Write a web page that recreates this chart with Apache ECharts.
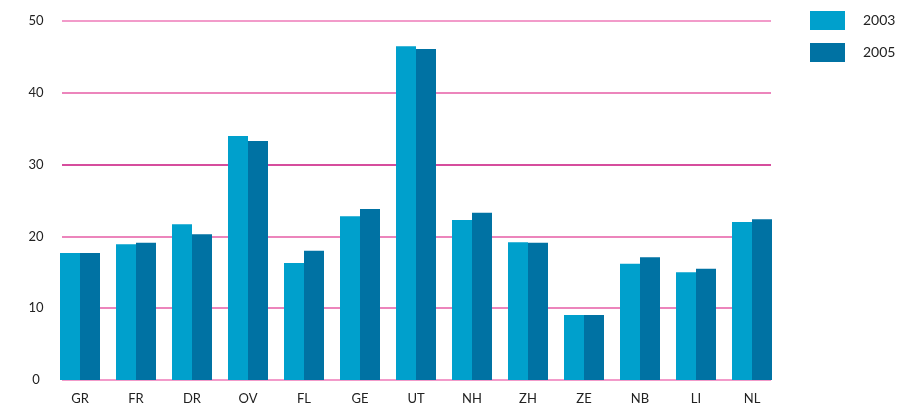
<!DOCTYPE html>
<html>
<head>
<meta charset="utf-8">
<script src="https://cdn.jsdelivr.net/npm/echarts@6/dist/echarts.min.js"></script>
<style>html,body{margin:0;padding:0;background:#fff}#c{width:914px;height:408px}</style>
</head>
<body>
<div id="c"></div>
<script>
const categories = ['GR','FR','DR','OV','FL','GE','UT','NH','ZH','ZE','NB','LI','NL'];
const values2003 = [17.7, 18.9, 21.7, 34.0, 16.3, 22.8, 46.5, 22.3, 19.2, 9.05, 16.2, 15.0, 22.0];
const values2005 = [17.7, 19.1, 20.3, 33.3, 18.0, 23.8, 46.1, 23.3, 19.1, 9.05, 17.1, 15.5, 22.4];
const seriesNames = ['2003', '2005'];
const yTicks = [0, 10, 20, 30, 40, 50];

const font = 'Lato';
const chart = echarts.init(document.getElementById('c'), null, {renderer: 'canvas'});
chart.setOption({
  animation: false,
  backgroundColor: '#ffffff',
  legend: {
    orient: 'vertical',
    left: 805, top: 6,
    itemWidth: 35, itemHeight: 19, itemGap: 13,
    icon: 'rect',
    textStyle: {fontFamily: font, fontSize: 14, color: '#222', padding: [0,0,0,13]},
    data: seriesNames
  },
  grid: [
    {left: 62, right: 143, top: 21, bottom: 28},
    {left: 52, right: 134, top: 21, bottom: 28}
  ],
  xAxis: [
    {gridIndex: 0, type: 'value', min: 0, max: 1, show: false},
    {gridIndex: 1, type: 'category', data: categories,
     axisLine: {show: false}, axisTick: {show: false},
     axisLabel: {fontFamily: font, fontSize: 13, color: '#222', margin: 12}}
  ],
  yAxis: [
    {gridIndex: 0, type: 'value', min: yTicks[0], max: yTicks[yTicks.length-1], interval: 10,
     axisLine: {show: false}, axisTick: {show: false},
     axisLabel: {fontFamily: font, fontSize: 13, color: '#222', align: 'center', margin: 26},
     splitLine: {lineStyle: {color: ['#ee7ab8','#e65ca6','#e65ca6','#c8127c','#e65ca6','#ee7ab8'], width: 1.5}}},
    {gridIndex: 1, type: 'value', min: yTicks[0], max: yTicks[yTicks.length-1], interval: 10, show: false, splitLine: {show: false}}
  ],
  series: [
    {name: seriesNames[0], type: 'bar', xAxisIndex: 1, yAxisIndex: 1, data: values2003,
     barWidth: 20, barGap: '0%', itemStyle: {color: '#00a0cc'}},
    {name: seriesNames[1], type: 'bar', xAxisIndex: 1, yAxisIndex: 1, data: values2005,
     barWidth: 20, barGap: '0%', itemStyle: {color: '#0072a3'}}
  ]
});
</script>
</body>
</html>
